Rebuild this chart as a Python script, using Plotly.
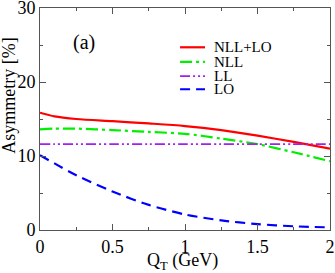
import plotly.graph_objects as go

# ---- data ----
qt = [0, 0.1, 0.25, 0.5, 0.75, 1.0, 1.25, 1.5, 1.75, 2.0]
nll_lo = [15.85, 15.35, 15.0, 14.7, 14.4, 14.05, 13.5, 12.75, 11.9, 11.0]
nll = [13.6, 13.7, 13.7, 13.5, 13.25, 13.0, 12.35, 11.6, 10.5, 9.3]
ll = [11.6, 11.6, 11.6, 11.6, 11.6, 11.6, 11.6, 11.6, 11.6, 11.6]
lo = [10.1, 9.0, 7.4, 5.2, 3.4, 2.1, 1.3, 0.8, 0.5, 0.35]

series_names = ["NLL+LO", "NLL", "LL", "LO"]
series_values = [nll_lo, nll, ll, lo]
x_tick_vals = [0, 0.5, 1, 1.5, 2]
x_tick_text = ["0", "0.5", "1", "1.5", "2"]
y_tick_vals = [0, 10, 20, 30]

# ---- styles ----
font = "Liberation Serif, Times New Roman, Times, serif"
styles = [
    dict(color="#ff0000", width=2.2, dash="solid"),
    dict(color="#00ee00", width=2.2, dash="12px,4px,3px,4px"),
    dict(color="#a020f0", width=1.6, dash="10px,3px,2px,3px,2px,3px"),
    dict(color="#0000ff", width=2.2, dash="10px,6px"),
]

fig = go.Figure()
for name, vals, st in zip(series_names, series_values, styles):
    fig.add_trace(go.Scatter(x=qt, y=vals, name=name, mode="lines",
                             line=dict(shape="spline", smoothing=0.8, **st),
                             showlegend=False))

axis_common = dict(showgrid=False, zeroline=False, showline=True, linecolor="#555",
                   linewidth=1, mirror="ticks", ticks="inside", ticklen=6,
                   tickcolor="#555", ticklabeloverflow="allow", automargin=False,
                   tickfont=dict(family=font, size=18, color="black"))
fig.update_xaxes(range=[0, 2], tickvals=x_tick_vals, ticktext=x_tick_text,
                 minor=dict(ticks="inside", ticklen=3, dtick=0.25, tickcolor="#555"),
                 **axis_common)
fig.update_yaxes(range=[0, 30], tickvals=y_tick_vals,
                 minor=dict(ticks="inside", ticklen=3, dtick=5, tickcolor="#555"),
                 **axis_common)

# axis titles
fig.add_annotation(xref="paper", yref="paper", x=0.49, y=0, yanchor="top", yshift=-18,
                   text="Q<sub>T</sub> (GeV)", showarrow=False,
                   font=dict(family=font, size=18, color="black"))
fig.add_annotation(xref="paper", yref="paper", x=0, y=0.605, xanchor="center", xshift=-31,
                   text="Asymmetry [%]", textangle=-90, showarrow=False,
                   font=dict(family=font, size=18, color="black"))
# panel label
fig.add_annotation(x=0.30, y=25.4, text="(a)", showarrow=False,
                   font=dict(family=font, size=20, color="black"))

# manual legend (compact, as in the reference)
leg_x0, leg_x1, leg_tx = 0.483, 0.569, 0.593
leg_rows = [0.823, 0.757, 0.693, 0.634]
for name, st, ry in zip(series_names, styles, leg_rows):
    fig.add_shape(type="line", xref="paper", yref="paper", x0=leg_x0, x1=leg_x1, y0=ry, y1=ry,
                  line=dict(color=st["color"], width=st["width"], dash=st["dash"]))
    fig.add_annotation(xref="paper", yref="paper", x=leg_tx, y=ry, xanchor="left",
                       yanchor="middle", text=name, showarrow=False,
                       font=dict(family=font, size=15, color="black"))

fig.update_layout(width=335, height=273, margin=dict(l=40, r=5, t=8, b=43),
                  font=dict(family=font, color="black"),
                  paper_bgcolor="white", plot_bgcolor="white", showlegend=False)
fig.write_html("out.html", config={"displayModeBar": False},
               post_script="document.body.style.margin='0';document.body.style.overflow='hidden';")
